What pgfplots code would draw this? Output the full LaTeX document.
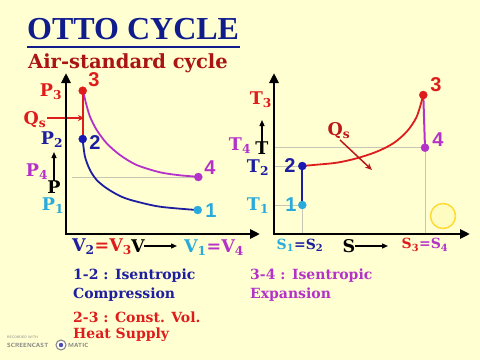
\documentclass[border=0pt]{standalone}
\usepackage{pgfplots}
\pgfplotsset{compat=1.18}
\usepackage{fontspec}
\setmainfont{DejaVu Serif}
\newfontfamily\digitfont{Liberation Sans}
\newfontfamily\titlefont{Liberation Serif}
\usetikzlibrary{arrows.meta}
\definecolor{bg}{RGB}{255,255,210}
\definecolor{titleblue}{RGB}{16,28,140}
\definecolor{dred}{RGB}{170,20,20}
\definecolor{cred}{RGB}{222,28,28}
\definecolor{navy}{RGB}{30,30,160}
\definecolor{cmag}{RGB}{180,50,200}
\definecolor{ccyan}{RGB}{40,170,220}
\definecolor{gline}{RGB}{198,198,180}
\newcommand{\lab}{\fontsize{17.5}{17.5}\selectfont\bfseries}
\newcommand{\dig}{\digitfont\fontsize{20}{20}\selectfont\bfseries}
\begin{document}
\begin{tikzpicture}[x=1pt,y=1pt]
\fill[bg] (0,0) rectangle (480,360);
% title
\node[anchor=west, text=titleblue, font=\titlefont\fontsize{32}{32}\selectfont\bfseries, inner sep=0] at (27,331) {OTTO CYCLE};
\draw[titleblue, line width=2.5pt] (27,313) -- (240,313);
\node[anchor=west, text=dred, font=\fontsize{19.5}{19.5}\selectfont\bfseries, inner sep=0] at (28,297) {Air-standard cycle};

% ---------- P-V diagram ----------
\begin{axis}[at={(66,126)}, anchor=south west, x=1pt, y=1pt,
  xmin=0, xmax=194, ymin=0, ymax=161, hide axis, clip=false]
\addplot[gline, line width=1pt] coordinates {(6,57) (132,57)};
\addplot[navy, line width=1.8pt, smooth] coordinates {(16.7,94) (19,77.3) (24,64) (30.7,54) (40.7,45.7) (54,38) (67.3,33.3) (94,27.3) (130.7,24)};
\addplot[cmag, line width=1.8pt, smooth] coordinates {(17.3,142.3) (20,130.7) (24,117.3) (30.7,104) (40.7,90.7) (54,79) (70.7,69) (94,61.7) (114,58.7) (131.7,57.3)};
\addplot[cred, line width=2pt] coordinates {(16.7,95) (16.7,143.3)};
\addplot[cred, line width=1.5pt, -{Stealth[length=6pt,width=6pt]}] coordinates {(-19,116) (18,116)};
\addplot[only marks, mark=*, mark size=4, cred] coordinates {(16.7,143.3)};
\addplot[only marks, mark=*, mark size=4, navy!80!blue] coordinates {(16.7,95)};
\addplot[only marks, mark=*, mark size=4, cmag] coordinates {(132.3,57)};
\addplot[only marks, mark=*, mark size=4, ccyan] coordinates {(131.7,24)};
\draw[line width=2.5pt, {Triangle[length=10pt,width=9pt]}-{Triangle[length=10pt,width=9pt]}] (axis cs:0,161) -- (axis cs:0,0) -- (axis cs:194,0);
\draw[line width=1.3pt, -{Triangle[length=6pt,width=5pt]}] (axis cs:-12,53) -- (axis cs:-12,82);
\draw[line width=1.3pt, -{Triangle[length=6pt,width=5pt]}] (axis cs:78,-12) -- (axis cs:111,-12);
\node[font=\lab, text=cred] at (axis cs:-15,142) {P\textsubscript{3}};
\node[font=\dig, text=cred] at (axis cs:28,154) {3};
\node[font=\lab, text=navy] at (axis cs:-14,94) {P\textsubscript{2}};
\node[font=\dig, text=navy] at (axis cs:29,91) {2};
\node[font=\lab, text=cmag] at (axis cs:-29,62) {P\textsubscript{4}};
\node[font=\lab, text=black] at (axis cs:-12,47) {P};
\node[font=\lab, text=ccyan] at (axis cs:-13,28) {P\textsubscript{1}};
\node[font=\lab, text=cred] at (axis cs:-31,114) {Q\textsubscript{s}};
\node[font=\dig, text=cmag] at (axis cs:144,66) {4};
\node[font=\dig, text=ccyan] at (axis cs:145,23) {1};
\node[font=\lab] at (axis cs:36,-13) {\textcolor{navy}{V\textsubscript{2}}\textcolor{cred}{=V\textsubscript{3}}};
\node[font=\lab, text=black] at (axis cs:72,-12) {V};
\node[font=\lab] at (axis cs:148,-14) {\textcolor{ccyan}{V\textsubscript{1}}\textcolor{cmag}{=V\textsubscript{4}}};
\end{axis}

% ---------- T-s diagram ----------
\begin{axis}[at={(274,126)}, anchor=south west, x=1pt, y=1pt,
  xmin=0, xmax=196, ymin=0, ymax=161, hide axis, clip=false]
\addplot[gline, line width=1pt] coordinates {(0,86.3) (151,86.3)};
\addplot[gline, line width=1pt] coordinates {(151,0) (151,86.3)};
\addplot[gline, line width=1pt] coordinates {(0,68) (28.3,68)};
\addplot[gline, line width=1pt] coordinates {(0,29) (28.3,29)};
\addplot[gline, line width=1pt] coordinates {(28.3,0) (28.3,29)};
\addplot[navy, line width=2pt] coordinates {(28.3,29.5) (28.3,68)};
\addplot[cmag, line width=2pt] coordinates {(149.3,139) (151,86.3)};
\addplot[cred, line width=1.8pt, smooth] coordinates {(28.3,68) (39.3,69) (62.7,71.3) (82.7,75.7) (102.7,82.3) (119.3,90.7) (132.7,102.3) (142.7,117.3) (149.3,139)};
\addplot[cred!85!black, line width=1.5pt, -{Stealth[length=7pt,width=6pt]}] coordinates {(66,94) (98,64)};
\addplot[only marks, mark=*, mark size=4, cred] coordinates {(149.3,139)};
\addplot[only marks, mark=*, mark size=4, cmag] coordinates {(151,86.3)};
\addplot[only marks, mark=*, mark size=4, navy!80!blue] coordinates {(28.3,68)};
\addplot[only marks, mark=*, mark size=4, ccyan] coordinates {(28.3,29)};
\draw[line width=2.5pt, {Triangle[length=10pt,width=9pt]}-{Triangle[length=10pt,width=9pt]}] (axis cs:0,161) -- (axis cs:0,0) -- (axis cs:196,0);
\draw[line width=1.3pt, -{Triangle[length=6pt,width=5pt]}] (axis cs:-12,88) -- (axis cs:-12,114);
\draw[line width=1.3pt, -{Triangle[length=6pt,width=5pt]}] (axis cs:81,-12) -- (axis cs:114,-12);
\node[font=\lab, text=cred] at (axis cs:-13,134) {T\textsubscript{3}};
\node[font=\dig, text=cred] at (axis cs:162,149) {3};
\node[font=\lab, text=cmag] at (axis cs:-34,88) {T\textsubscript{4}};
\node[font=\lab, text=black] at (axis cs:-12,86) {T};
\node[font=\lab, text=navy] at (axis cs:-16,66) {T\textsubscript{2}};
\node[font=\dig, text=navy] at (axis cs:16,68) {2};
\node[font=\lab, text=ccyan] at (axis cs:-16,28) {T\textsubscript{1}};
\node[font=\dig, text=ccyan] at (axis cs:17,29) {1};
\node[font=\dig, text=cmag] at (axis cs:164,94) {4};
\node[font=\lab, text=cred!85!black] at (axis cs:65,103) {Q\textsubscript{s}};
\node[font=\fontsize{14}{14}\selectfont\bfseries] at (axis cs:26,-11) {\textcolor{ccyan}{S\textsubscript{1}}\textcolor{navy}{=S\textsubscript{2}}};
\node[font=\lab, text=black] at (axis cs:75,-12) {S};
\node[font=\fontsize{14}{14}\selectfont\bfseries] at (axis cs:151,-11) {\textcolor{cred}{S\textsubscript{3}}\textcolor{cmag}{=S\textsubscript{4}}};
\end{axis}

% cursor highlight
\draw[yellow!70!orange!80, line width=1.5pt, fill=yellow!8!bg] (443,144) circle (12.5);

% notes
\begin{scope}[every node/.style={anchor=west, inner sep=0, font=\fontsize{14}{14}\selectfont\bfseries}]
\node[text=navy] at (73,84) {1-2 : Isentropic};
\node[text=navy] at (73,65) {Compression};
\node[text=cred] at (73,43) {2-3 : Const. Vol.};
\node[text=cred] at (73,25) {Heat Supply};
\node[text=cmag] at (250,84) {3-4 : Isentropic};
\node[text=cmag] at (250,65) {Expansion};
\end{scope}

% watermark
\node[anchor=west, inner sep=0, text=gray, font=\sffamily\fontsize{3.5}{3.5}\selectfont] at (7,23) {RECORDED WITH};
\node[anchor=west, inner sep=0, text=gray, font=\sffamily\bfseries\fontsize{6}{6}\selectfont] at (7,15) {SCREENCAST};
\draw[gray, line width=1pt, fill=white] (61,15) circle (5);
\fill[gray!60!blue] (61,15) circle (2.2);
\node[anchor=west, inner sep=0, text=gray, font=\sffamily\bfseries\fontsize{6}{6}\selectfont] at (68,15) {MATIC};
\end{tikzpicture}
\end{document}
